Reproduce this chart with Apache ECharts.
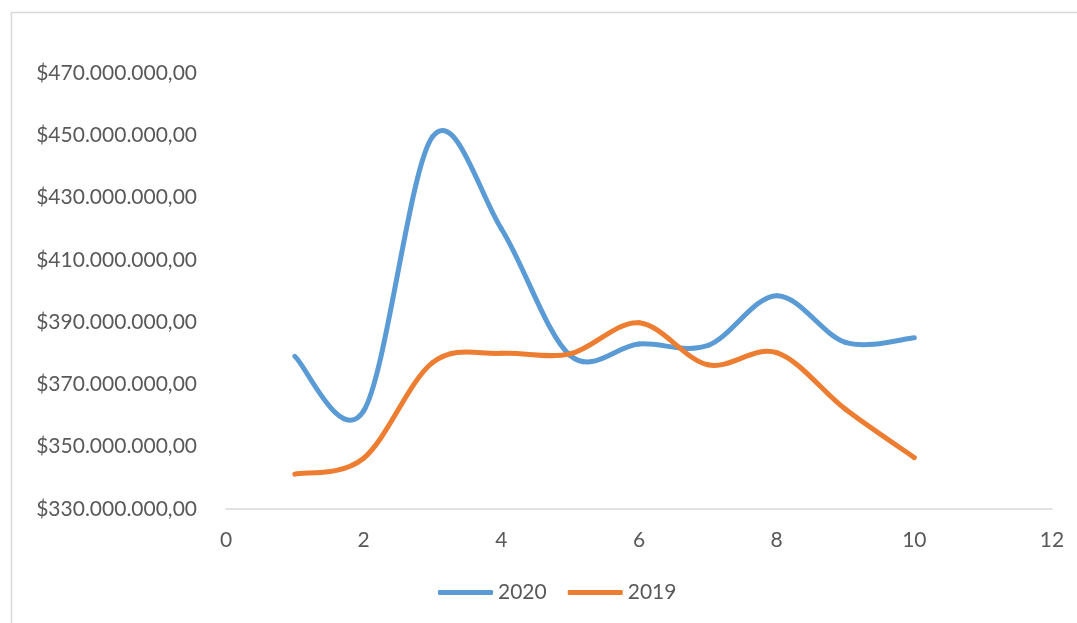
<!DOCTYPE html>
<html>
<head>
<meta charset="utf-8">
<script src="https://cdn.jsdelivr.net/npm/echarts@6/dist/echarts.min.js"></script>
<style>
  html, body { margin: 0; padding: 0; background: #ffffff; }
  #chart { width: 1077px; height: 623px; }
</style>
</head>
<body>
<div id="chart"></div>
<script>
// Month index (x) and totals per year, in pesos
const months = [1, 2, 3, 4, 5, 6, 7, 8, 9, 10];
const values2020 = [379.0e6, 361.5e6, 449.5e6, 420.0e6, 379.3e6, 383.0e6, 382.5e6, 398.5e6, 383.5e6, 385.0e6];
const values2019 = [341.2e6, 346.3e6, 377.0e6, 380.0e6, 379.8e6, 389.8e6, 376.3e6, 380.2e6, 362.0e6, 346.5e6];
const seriesNames = ['2020', '2019'];
const seriesColors = ['#5B9BD5', '#ED7D31'];

const textColor = '#595959';
const fontFamily = 'Lato, "Open Sans", sans-serif';

// $470.000.000,00 style money labels
function money(v) {
  const whole = Math.round(v).toString().replace(/\B(?=(\d{3})+(?!\d))/g, '.');
  return '$' + whole + ',00';
}

function pairs(xs, ys) {
  return xs.map((x, i) => [x, ys[i]]);
}

// Smoothed line drawn segment by segment as cubic Bezier curves
// (Catmull-Rom style control points) through the axis coordinates.
function smoothRenderer(xs, ys, color) {
  return function (params, api) {
    const i = params.dataIndex;
    const n = xs.length;
    if (i >= n - 1) return null;
    const pt = (k) => {
      const j = Math.max(0, Math.min(n - 1, k));
      return api.coord([xs[j], ys[j]]);
    };
    const p0 = pt(i - 1), p1 = pt(i), p2 = pt(i + 1), p3 = pt(i + 2);
    return {
      type: 'bezierCurve',
      shape: {
        x1: p1[0], y1: p1[1],
        x2: p2[0], y2: p2[1],
        cpx1: p1[0] + (p2[0] - p0[0]) / 6,
        cpy1: p1[1] + (p2[1] - p0[1]) / 6,
        cpx2: p2[0] - (p3[0] - p1[0]) / 6,
        cpy2: p2[1] - (p3[1] - p1[1]) / 6
      },
      style: { stroke: color, fill: null, lineWidth: 5, lineCap: 'round' }
    };
  };
}

const chart = echarts.init(document.getElementById('chart'), null, { renderer: 'canvas' });

chart.setOption({
  backgroundColor: '#ffffff',
  animation: false,
  textStyle: { fontFamily: fontFamily, color: textColor },
  graphic: [{
    type: 'rect',
    shape: { x: 11.5, y: 12.5, width: 1200, height: 800 },
    style: { fill: 'none', stroke: '#d9d9d9', lineWidth: 1.5 },
    silent: true,
    z: -1
  }],
  grid: { left: 226, right: 25, top: 73, bottom: 114 },
  xAxis: {
    type: 'value',
    min: 0,
    max: 12,
    interval: 2,
    axisLine: { show: true, lineStyle: { color: '#d9d9d9', width: 1.5 } },
    axisTick: { show: false },
    splitLine: { show: false },
    axisLabel: { color: textColor, fontSize: 21, fontFamily: fontFamily, margin: 21 }
  },
  yAxis: {
    type: 'value',
    min: 330e6,
    max: 470e6,
    interval: 20e6,
    axisLine: { show: false },
    axisTick: { show: false },
    splitLine: { show: false },
    axisLabel: {
      color: textColor, fontSize: 21, fontFamily: fontFamily, margin: 29,
      formatter: money
    }
  },
  legend: {
    bottom: 15,
    left: 433,
    itemWidth: 55,
    itemHeight: 5,
    itemGap: 21,
    icon: 'roundRect',
    textStyle: { color: textColor, fontSize: 21, fontFamily: fontFamily },
    data: seriesNames
  },
  series: [
    {
      name: seriesNames[0],
      type: 'custom',
      data: pairs(months, values2020),
      encode: { x: 0, y: 1 },
      itemStyle: { color: seriesColors[0] },
      renderItem: smoothRenderer(months, values2020, seriesColors[0])
    },
    {
      name: seriesNames[1],
      type: 'custom',
      data: pairs(months, values2019),
      encode: { x: 0, y: 1 },
      itemStyle: { color: seriesColors[1] },
      renderItem: smoothRenderer(months, values2019, seriesColors[1])
    }
  ]
});
</script>
</body>
</html>
